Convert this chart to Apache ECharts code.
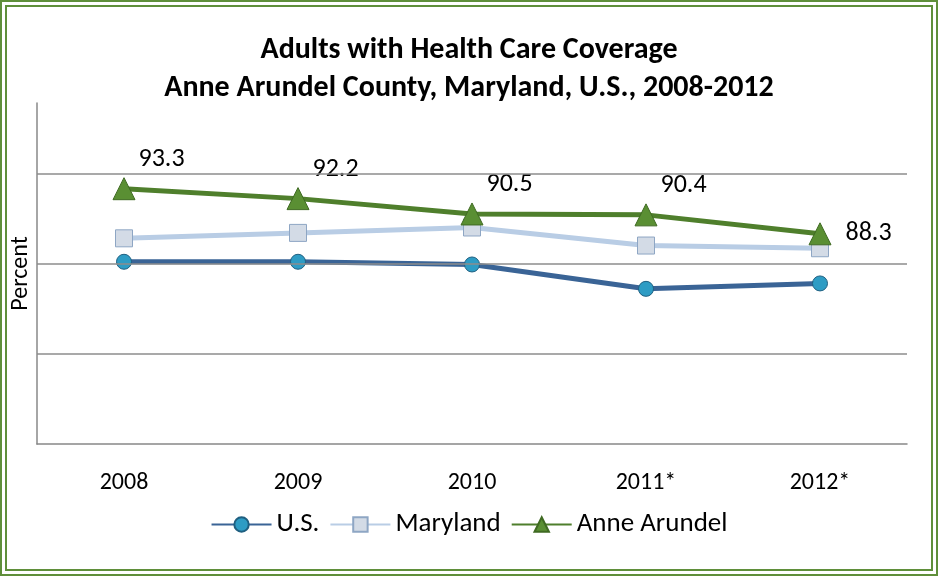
<!DOCTYPE html>
<html>
<head>
<meta charset="utf-8">
<script src="https://cdn.jsdelivr.net/npm/echarts@6/dist/echarts.min.js"></script>
<style>
  html, body { margin: 0; padding: 0; background: #fff; }
  #chart { position: absolute; left: 0; top: 0; width: 938px; height: 576px; box-sizing: border-box;
           border: 7px double #5f8f3a; }
</style>
</head>
<body>
<div id="chart"></div>
<script>
const years = ['2008', '2009', '2010', '2011*', '2012*'];
const usValues = [85.2, 85.2, 84.9, 82.2, 82.8];
const marylandValues = [87.8, 88.4, 89.0, 87.0, 86.7];
const anneArundelValues = [93.3, 92.2, 90.5, 90.4, 88.3];
const gridLevels = [75, 85, 95];

const chart = echarts.init(document.getElementById('chart'));
const font = 'Carlito, Calibri, Lato, sans-serif';

const lastIdx = anneArundelValues.length - 1;
const aaData = anneArundelValues.map((v, i) => ({
    value: v,
    label: i === lastIdx
        ? { position: 'right', distance: 14 }
        : { position: [26, -31] }
}));

chart.setOption({
    animation: false,
    textStyle: { fontFamily: font },
    title: {
        text: 'Adults with Health Care Coverage\nAnne Arundel County, Maryland, U.S., 2008-2012',
        left: 'center', top: 19,
        textStyle: { fontSize: 30, fontWeight: 'bold', color: '#000', lineHeight: 38, fontFamily: font }
    },
    legend: {
        bottom: 26, left: 'center', itemWidth: 60, itemHeight: 18, itemGap: 10,
        textStyle: { fontSize: 27, color: '#000', fontFamily: font },
        data: ['U.S.', 'Maryland', 'Anne Arundel']
    },
    grid: { left: 30, right: 24, top: 96, bottom: 125, outerBoundsMode: 'none' },
    xAxis: {
        type: 'category', data: years,
        axisLine: { lineStyle: { color: '#888', width: 1.5 } },
        axisTick: { show: false },
        axisLabel: { fontSize: 24, color: '#000', margin: 27 }
    },
    yAxis: {
        type: 'value', min: 65, max: 102.8,
        name: 'Percent', nameLocation: 'middle', nameGap: 4, nameRotate: 90,
        nameTextStyle: { fontSize: 24, color: '#000' },
        axisLabel: { show: false }, axisTick: { show: false },
        splitLine: { show: false },
        axisLine: { show: true, lineStyle: { color: '#888', width: 1.5 } }
    },
    series: [
        {
            name: 'U.S.', type: 'line', data: usValues, z: 3,
            symbol: 'circle', symbolSize: 15,
            lineStyle: { color: '#3a6496', width: 5 },
            itemStyle: { color: '#2e9cc4', borderColor: '#1f5f80', borderWidth: 1 },
            markLine: {
                silent: true, symbol: 'none', label: { show: false },
                lineStyle: { color: '#8c8c8c', width: 1.5, type: 'solid' },
                data: gridLevels.map(v => ({ yAxis: v }))
            }
        },
        {
            name: 'Maryland', type: 'line', data: marylandValues, z: 2,
            symbol: 'rect', symbolSize: 17,
            lineStyle: { color: '#b9cde5', width: 5 },
            itemStyle: { color: '#d3dbe6', borderColor: '#8ea6c4', borderWidth: 1 }
        },
        {
            name: 'Anne Arundel', type: 'line', data: aaData, z: 4,
            symbol: 'triangle', symbolSize: 22,
            lineStyle: { color: '#4f7f2c', width: 5 },
            itemStyle: { color: '#5a8f33', borderColor: '#3f6a22', borderWidth: 1 },
            label: { show: true, fontSize: 26, color: '#000', fontFamily: font },
            labelLayout: { hideOverlap: false },
            emphasis: { disabled: true }
        }
    ]
});
</script>
</body>
</html>
